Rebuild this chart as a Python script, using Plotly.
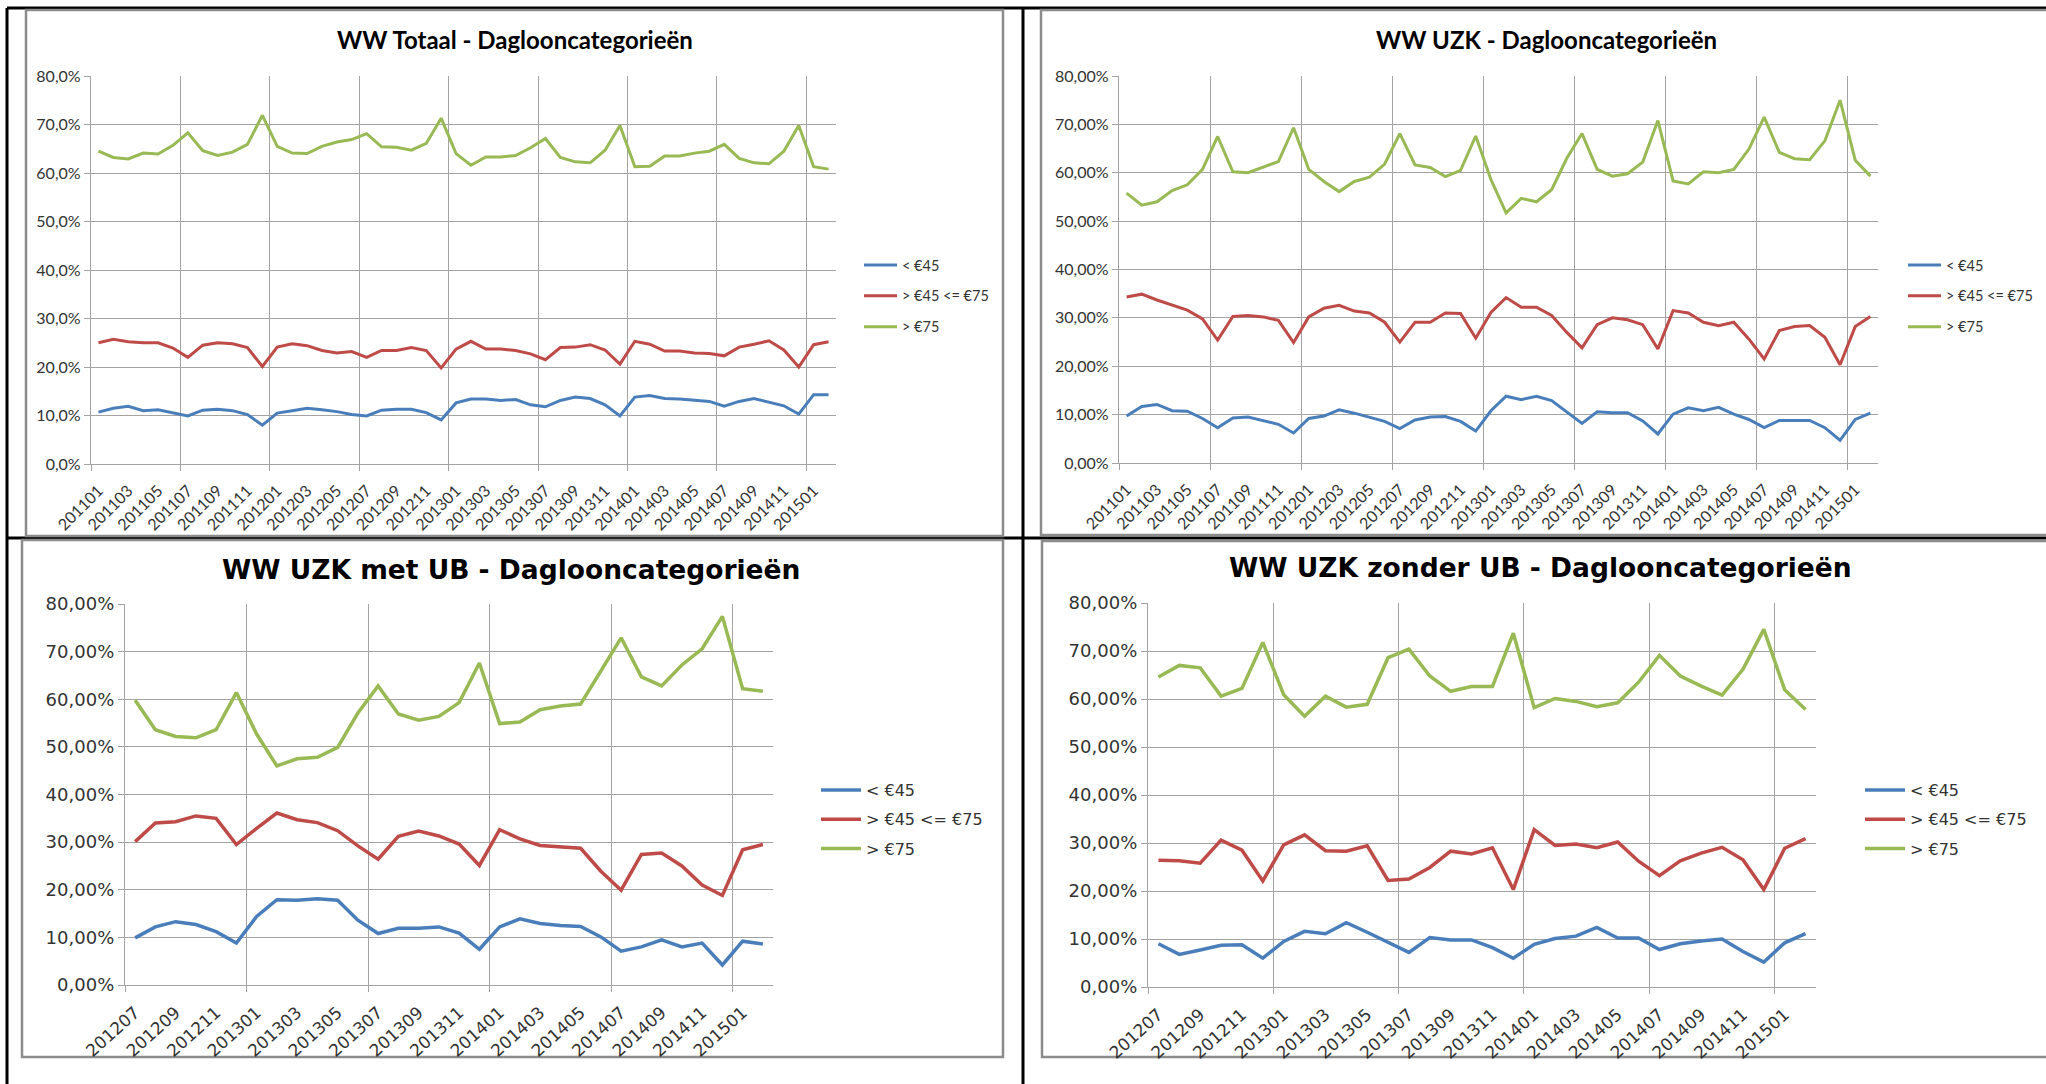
import plotly.graph_objects as go

W, H = 2046, 1084

# ---------------- data ----------------
months_a = [f"{y}{m:02d}" for y in range(2011, 2016) for m in range(1, 13)][:50]   # 201101 .. 201502
months_b = months_a[18:]                                                          # 201207 .. 201502

series_names = ["< €45", "> €45 <= €75", "> €75"]

# WW Totaal
blue1 = [10.7, 11.5, 11.9, 11.0, 11.2, 10.6, 9.9, 11.1, 11.3, 11.0, 10.2, 8.0, 10.5, 11.0, 11.5, 11.2, 10.8,
         10.2, 9.9, 11.1, 11.3, 11.3, 10.6, 9.1, 12.6, 13.4, 13.4, 13.1, 13.3, 12.2, 11.8, 13.1, 13.8, 13.5,
         12.2, 9.9, 13.8, 14.1, 13.5, 13.4, 13.1, 12.9, 11.9, 12.9, 13.5, 12.8, 12.0, 10.3, 14.3, 14.3]
red1 = [25.0, 25.7, 25.2, 25.0, 25.0, 23.9, 22.0, 24.5, 25.0, 24.8, 24.0, 20.1, 24.1, 24.8, 24.4, 23.4, 22.9,
        23.2, 22.0, 23.4, 23.4, 24.0, 23.4, 19.8, 23.7, 25.3, 23.7, 23.7, 23.4, 22.7, 21.5, 24.0, 24.1, 24.6,
        23.5, 20.6, 25.3, 24.7, 23.3, 23.3, 22.9, 22.8, 22.3, 24.1, 24.7, 25.4, 23.5, 20.0, 24.6, 25.2]
green1 = [64.5, 63.2, 62.9, 64.1, 63.9, 65.7, 68.3, 64.6, 63.6, 64.3, 65.9, 71.9, 65.5, 64.1, 64.0, 65.5, 66.4,
          66.9, 68.1, 65.4, 65.3, 64.7, 66.1, 71.3, 64.0, 61.6, 63.3, 63.3, 63.6, 65.2, 67.1, 63.2, 62.3, 62.1,
          64.7, 69.8, 61.3, 61.4, 63.5, 63.5, 64.1, 64.5, 65.9, 63.0, 62.1, 61.9, 64.5, 69.8, 61.3, 60.8]

# WW UZK
blue2 = [9.7, 11.7, 12.1, 10.8, 10.7, 9.2, 7.3, 9.3, 9.5, 8.7, 8.0, 6.2, 9.2, 9.7, 11.0, 10.3, 9.5, 8.6, 7.1,
         8.9, 9.5, 9.6, 8.6, 6.6, 10.8, 13.8, 13.1, 13.8, 12.9, 10.6, 8.2, 10.6, 10.4, 10.4, 8.7, 6.0, 10.1,
         11.4, 10.8, 11.5, 10.1, 9.0, 7.3, 8.8, 8.8, 8.8, 7.3, 4.7, 9.0, 10.3]
red2 = [34.3, 34.9, 33.7, 32.7, 31.6, 29.8, 25.4, 30.3, 30.5, 30.2, 29.5, 24.9, 30.2, 32.0, 32.6, 31.4, 31.0,
        29.1, 25.0, 29.1, 29.1, 31.0, 30.9, 25.8, 31.1, 34.2, 32.2, 32.2, 30.5, 27.0, 23.8, 28.6, 30.0, 29.6,
        28.6, 23.6, 31.5, 31.0, 29.1, 28.4, 29.1, 25.6, 21.5, 27.4, 28.2, 28.4, 26.0, 20.3, 28.2, 30.3]
green2 = [55.8, 53.3, 54.0, 56.3, 57.5, 60.7, 67.5, 60.2, 60.0, 61.1, 62.3, 69.3, 60.7, 58.2, 56.1, 58.2, 59.1,
          61.8, 68.1, 61.6, 61.1, 59.2, 60.5, 67.6, 58.6, 51.7, 54.7, 54.0, 56.5, 63.0, 68.1, 60.7, 59.3, 59.8,
          62.2, 70.8, 58.3, 57.7, 60.2, 60.0, 60.7, 64.9, 71.5, 64.2, 62.9, 62.7, 66.6, 75.0, 62.6, 59.3]

# WW UZK met UB
blue3 = [9.9, 12.2, 13.3, 12.7, 11.2, 8.8, 14.4, 17.9, 17.8, 18.1, 17.8, 13.6, 10.8, 11.9, 11.9, 12.2, 10.9,
         7.5, 12.2, 13.9, 12.9, 12.5, 12.3, 10.1, 7.1, 8.0, 9.5, 8.0, 8.8, 4.2, 9.2, 8.6]
red3 = [30.1, 34.0, 34.3, 35.5, 35.0, 29.5, 32.9, 36.1, 34.7, 34.1, 32.4, 29.2, 26.4, 31.2, 32.3, 31.3, 29.6,
        25.1, 32.6, 30.7, 29.3, 29.0, 28.7, 23.9, 19.9, 27.4, 27.7, 25.0, 21.0, 18.8, 28.4, 29.5]
green3 = [59.8, 53.6, 52.2, 51.9, 53.6, 61.4, 52.7, 46.0, 47.5, 47.8, 49.9, 57.1, 62.8, 56.9, 55.6, 56.4, 59.3,
          67.6, 54.9, 55.2, 57.8, 58.6, 59.0, 65.9, 72.9, 64.7, 62.8, 67.2, 70.6, 77.4, 62.2, 61.7]

# WW UZK zonder UB
blue4 = [9.0, 6.8, 7.7, 8.7, 8.8, 6.0, 9.5, 11.6, 11.1, 13.4, 11.4, 9.2, 7.2, 10.3, 9.8, 9.8, 8.2, 6.0, 8.9,
         10.1, 10.6, 12.4, 10.2, 10.2, 7.8, 9.0, 9.6, 10.0, 7.4, 5.2, 9.2, 11.1]
red4 = [26.4, 26.3, 25.8, 30.6, 28.5, 22.1, 29.6, 31.7, 28.4, 28.3, 29.4, 22.2, 22.5, 24.9, 28.3, 27.7, 29.0,
        20.3, 32.8, 29.5, 29.8, 29.0, 30.2, 26.2, 23.2, 26.3, 27.9, 29.1, 26.5, 20.3, 28.9, 30.9]
green4 = [64.6, 67.0, 66.5, 60.6, 62.2, 71.8, 60.9, 56.4, 60.6, 58.3, 58.9, 68.6, 70.4, 64.8, 61.6, 62.6, 62.6,
          73.7, 58.2, 60.1, 59.5, 58.4, 59.2, 63.5, 69.1, 64.8, 62.7, 60.8, 66.2, 74.5, 61.9, 57.8]

titles = ["WW Totaal - Daglooncategorieën", "WW UZK - Daglooncategorieën",
          "WW UZK met UB - Daglooncategorieën", "WW UZK zonder UB - Daglooncategorieën"]

colors = ["#4A7EBB", "#BE4B48", "#98B954"]

# ---------------- layout helpers (pixel boxes) ----------------
def px_x(v):
    return v / W

def px_y(v):
    return 1 - v / H

TOP_FONT = "Lato"
BOT_FONT = "DejaVu Sans"

panels = [
    dict(months=months_a, data=[blue1, red1, green1], fmt=".1f",
         plot=(91, 836, 76, 464), title_xy=(515, 39), font=TOP_FONT, tsize=24, xfs=16, yfs=16, lsize=14.5,
         lw=3, leg=(859, 249), gap=9, iw=33, angle=-45),
    dict(months=months_a, data=[blue2, red2, green2], fmt=".2f",
         plot=(1119, 1878, 76, 463), title_xy=(1546, 39), font=TOP_FONT, tsize=24, xfs=16, yfs=16, lsize=14.5,
         lw=3, leg=(1903, 249), gap=9, iw=33, angle=-45),
    dict(months=months_b, data=[blue3, red3, green3], fmt=".2f",
         plot=(125, 773, 604, 985), title_xy=(511, 569), font=BOT_FONT, tsize=26.5, xfs=17, yfs=18, lsize=16,
         lw=3.5, leg=(816, 773), gap=5.5, iw=40, angle=-42),
    dict(months=months_b, data=[blue4, red4, green4], fmt=".2f",
         plot=(1148, 1816, 603, 987), title_xy=(1540, 567), font=BOT_FONT, tsize=26.5, xfs=17, yfs=18, lsize=16,
         lw=3.5, leg=(1860, 773), gap=5.5, iw=40, angle=-42),
]

fig = go.Figure()
layout = {}
annotations = []
GRID = "#A3A3A3"
TXT = "#333333"

for k, p in enumerate(panels, start=1):
    sfx = "" if k == 1 else str(k)
    xs = list(range(len(p["months"])))
    for name, vals, col in zip(series_names, p["data"], colors):
        fig.add_trace(go.Scatter(
            x=xs, y=vals, mode="lines", name=name,
            line=dict(color=col, width=p["lw"]),
            xaxis="x" + sfx, yaxis="y" + sfx,
            legend="legend" + sfx, legendgroup=f"{k}{name}",
            hoverinfo="skip",
        ))
    x0, x1, y0, y1 = p["plot"]
    n = len(p["months"])
    layout["xaxis" + sfx] = dict(
        domain=[px_x(x0), px_x(x1)], anchor="y" + sfx,
        range=[-0.5, n - 0.5], showgrid=False, zeroline=False,
        tickmode="array", tickvals=xs[::2], ticktext=p["months"][::2],
        tickangle=p["angle"], ticks="", ticklabelstandoff=10,
        tickfont=dict(family=p["font"], size=p["xfs"], color=TXT),
        showline=True, linecolor=GRID, linewidth=1.3,
        minor=dict(tickmode="linear", tick0=-0.5, dtick=6, showgrid=True, gridcolor=GRID,
                   gridwidth=1.3, ticks="outside", ticklen=6, tickcolor=GRID, tickwidth=1.3),
        fixedrange=True,
    )
    layout["yaxis" + sfx] = dict(
        domain=[px_y(y1), px_y(y0)], anchor="x" + sfx,
        range=[0, 80], tickmode="linear", tick0=0, dtick=10,
        tickformat=p["fmt"], ticksuffix="%",
        showgrid=True, gridcolor=GRID, gridwidth=1.3, zeroline=False,
        showline=True, linecolor=GRID, linewidth=1.3,
        ticks="outside", ticklen=6, tickcolor=GRID, tickwidth=1.3,
        tickfont=dict(family=p["font"], size=p["yfs"], color=TXT),
        fixedrange=True,
    )
    layout["legend" + sfx] = dict(
        x=px_x(p["leg"][0]), y=px_y(p["leg"][1]), xanchor="left", yanchor="top",
        bgcolor="rgba(0,0,0,0)", borderwidth=0, tracegroupgap=p["gap"], itemwidth=p["iw"],
        font=dict(family=p["font"], size=p["lsize"], color=TXT),
        orientation="v", itemclick=False, itemdoubleclick=False,
    )
    annotations.append(dict(
        text=titles[k - 1], x=px_x(p["title_xy"][0]), y=px_y(p["title_xy"][1]),
        xref="paper", yref="paper", xanchor="center", yanchor="middle", showarrow=False,
        font=dict(family=p["font"], size=p["tsize"], color="#000000", weight="bold"),
    ))

# frame: black table lines and grey chart borders
shapes = []
BLACK = "#000000"
for (a, b, c, d) in [(7, 8, 2046, 8), (7, 8, 7, 1084), (1023, 8, 1023, 1084), (7, 538, 2046, 538)]:
    shapes.append(dict(type="line", xref="paper", yref="paper", x0=px_x(a), y0=px_y(b), x1=px_x(c),
                       y1=px_y(d), line=dict(color=BLACK, width=3), layer="below"))
for (a, b, c, d) in [(26, 10, 1003, 536), (1041, 10, 2052, 535), (22, 540, 1003, 1057), (1042, 541, 2052, 1057)]:
    shapes.append(dict(type="rect", xref="paper", yref="paper", x0=px_x(a), y0=px_y(b), x1=px_x(c),
                       y1=px_y(d), line=dict(color="#8C8C8C", width=2.5), fillcolor="white", layer="below"))

fig.update_layout(
    width=W, height=H, margin=dict(l=0, r=0, t=0, b=0, pad=0, autoexpand=False),
    paper_bgcolor="white", plot_bgcolor="rgba(0,0,0,0)",
    separators=",.", showlegend=True,
    annotations=annotations, shapes=shapes, **layout,
)

fig.write_html(
    "out.html",
    config={"displayModeBar": False},
    post_script="document.body.style.margin='0px';document.body.style.overflow='hidden';",
)
